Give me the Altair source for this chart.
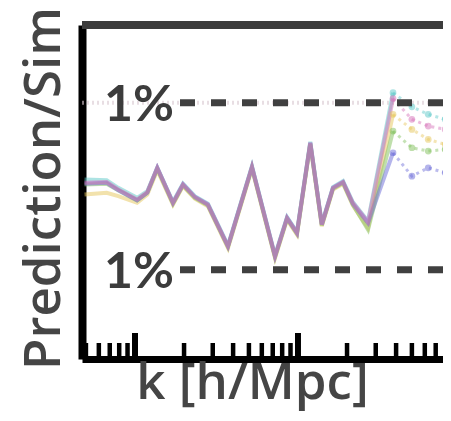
import altair as alt
import pandas as pd

W, H = 361, 334

# k grid (h/Mpc) for the solid part and the dotted tail
K_MAIN = [0.049, 0.067, 0.079, 0.103, 0.119, 0.137, 0.171, 0.197, 0.233, 0.280, 0.372,
          0.522, 0.723, 0.857, 0.986, 1.19, 1.40, 1.64, 1.89, 2.17, 2.69, 3.83]
K_TAIL = [3.83, 5.0, 6.3, 8.0]

SERIES = ["teal", "yellow", "green", "blue", "pink"]
COLORS = ["#5cc8c8", "#e6c65a", "#7fbf5a", "#6a6ad8", "#d56fb8"]

# percent deviation Prediction/Sim - 1
MAIN = {
    "teal":   [0.08, 0.07, -0.02, -0.14, -0.06, 0.22, -0.19, 0.03, -0.12, -0.21, -0.71, 0.24, -0.83, -0.37, -0.55, 0.53, -0.45, -0.01, 0.06, -0.19, -0.42, 1.12],
    "yellow": [-0.10, -0.08, -0.12, -0.20, -0.10, 0.19, -0.22, 0.00, -0.15, -0.24, -0.74, 0.21, -0.86, -0.40, -0.58, 0.50, -0.48, -0.04, 0.03, -0.23, -0.50, 0.86],
    "green":  [0.02, 0.03, -0.05, -0.17, -0.08, 0.21, -0.21, 0.01, -0.14, -0.23, -0.73, 0.22, -0.85, -0.39, -0.57, 0.51, -0.47, -0.03, 0.04, -0.22, -0.52, 0.66],
    "blue":   [0.03, 0.04, -0.05, -0.17, -0.08, 0.22, -0.20, 0.02, -0.13, -0.22, -0.72, 0.23, -0.84, -0.38, -0.56, 0.52, -0.46, -0.02, 0.05, -0.21, -0.44, 0.40],
    "pink":   [0.04, 0.05, -0.04, -0.16, -0.07, 0.22, -0.20, 0.02, -0.13, -0.22, -0.72, 0.23, -0.84, -0.38, -0.56, 0.52, -0.46, -0.02, 0.05, -0.20, -0.43, 1.05],
}
TAIL = {
    "teal":   [1.12, 0.95, 0.86, 0.80],
    "yellow": [0.86, 0.68, 0.56, 0.50],
    "green":  [0.66, 0.46, 0.42, 0.44],
    "blue":   [0.40, 0.12, 0.22, 0.16],
    "pink":   [1.05, 0.80, 0.72, 0.68],
}

MAJOR_TICKS = [0.1, 1.0]
MINOR_TICKS = [0.05, 0.06, 0.07, 0.08, 0.09, 0.2, 0.3, 0.4, 0.5, 0.6, 0.7, 0.8, 0.9,
               2, 3, 4, 5, 6, 7]
LEVELS = [1.0, -1.0]
LEVEL_LABELS = ["1%", "1%"]

main_df = pd.DataFrame([{"k": k, "v": v, "s": s} for s in SERIES for k, v in zip(K_MAIN, MAIN[s])])
tail_df = pd.DataFrame([{"k": k, "v": v, "s": s} for s in SERIES for k, v in zip(K_TAIL, TAIL[s])])
major_df = pd.DataFrame({"k": MAJOR_TICKS})
minor_df = pd.DataFrame({"k": MINOR_TICKS})
lev_df = pd.DataFrame({"v": LEVELS, "t": LEVEL_LABELS})

xs = alt.Scale(type="log", domain=[0.0473, 7.76], nice=False)
ys = alt.Scale(domain=[-2.07, 1.93], nice=False, zero=False)
col = alt.Color("s:N", scale=alt.Scale(domain=SERIES, range=COLORS), legend=None)

FONT = "Open Sans"
GREY = "#454545"

base_x = alt.X("k:Q", scale=xs, axis=alt.Axis(
    labels=False, ticks=False, grid=False, domain=True, domainColor="black",
    domainWidth=7, title="k [h/Mpc]", titleFont=FONT, titleFontSize=51,
    titleFontWeight=600, titleColor=GREY, titlePadding=-1, titleX=170))
base_y = alt.Y("v:Q", scale=ys, axis=alt.Axis(
    labels=False, ticks=False, grid=False, domain=True, domainColor="black",
    domainWidth=8, title="Prediction/Sim", titleFont=FONT, titleFontSize=51,
    titleFontWeight=600, titleColor=GREY, titlePadding=12, titleY=163))

faint = alt.Chart(lev_df.iloc[:1]).mark_rule(color="#d8c8d0", strokeWidth=4, strokeDash=[2, 3], opacity=0.6).encode(
    y=alt.Y("v:Q", scale=ys), x=alt.value(0), x2=alt.value(W))

lines = alt.Chart(main_df).mark_line(strokeWidth=4, opacity=0.5, clip=True).encode(
    x=base_x, y=base_y, color=col, detail="s:N")

tail = alt.Chart(tail_df).mark_line(strokeWidth=3, opacity=0.45, strokeDash=[3, 4], clip=True,
                                    point=alt.OverlayMarkDef(size=45, opacity=0.5, filled=True)).encode(
    x=alt.X("k:Q", scale=xs), y=alt.Y("v:Q", scale=ys), color=col, detail="s:N")

dashes = alt.Chart(lev_df).mark_rule(color="#404040", strokeWidth=7, strokeDash=[15, 16]).encode(
    y=alt.Y("v:Q", scale=ys), x=alt.value(98), x2=alt.value(W))

labels = alt.Chart(lev_df).mark_text(font="Lato", fontSize=50, fontWeight="bold", color="#3c3c3c",
                                     align="left", baseline="middle", dy=3).encode(
    y=alt.Y("v:Q", scale=ys), x=alt.value(22), text="t:N")

major = alt.Chart(major_df).mark_rule(color="black", strokeWidth=6).encode(
    x=alt.X("k:Q", scale=xs), y=alt.value(H), y2=alt.value(H - 26))
minor = alt.Chart(minor_df).mark_rule(color="black", strokeWidth=4.5).encode(
    x=alt.X("k:Q", scale=xs), y=alt.value(H), y2=alt.value(H - 16))

top = alt.Chart(lev_df.iloc[:1]).mark_rule(color="#3c3c3c", strokeWidth=8).encode(
    y=alt.value(0), x=alt.value(0), x2=alt.value(W + 10))

chart = alt.layer(faint, lines, tail, dashes, labels, major, minor, top).properties(
    width=W, height=H,
    autosize=alt.AutoSizeParams(type="none"),
    padding={"left": 74, "top": 17, "right": 0, "bottom": 62},
).configure_view(stroke=None).configure(background="white")

chart.save("out.html", embed_options={"renderer": "svg", "actions": False})
